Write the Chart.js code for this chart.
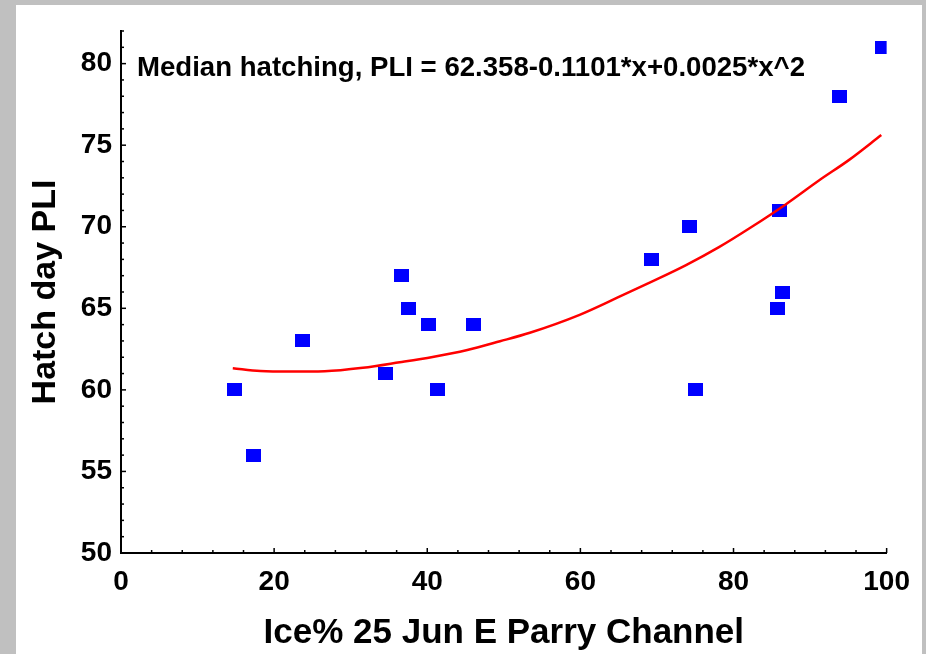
<!DOCTYPE html>
<html lang="en">
<head>
  <meta charset="UTF-8">
  <title>Hatch day PLI vs Ice%</title>
  <script src="https://cdn.jsdelivr.net/npm/chart.js"></script>
  <style>
    body {
      background-color: #c0c0c0;
      margin: 0;
      width: 926px;
      height: 654px;
      overflow: hidden;
    }
    .panel {
      position: absolute;
      left: 16px;
      top: 5px;
      width: 906px;
      height: 649px;
      background: #fff;
    }
  </style>
</head>
<body>
  <div class="panel"><canvas id="pliChart"></canvas></div>

  <script>
    // observed points: ice cover (%) on 25 Jun vs median hatch day
    const iceX = [14.8, 17.3, 23.7, 34.5, 36.7, 37.6, 40.1, 41.3, 46.1, 69.3, 74.2, 75.0, 86.0, 85.8, 86.4, 93.8, 99.4];
    const hatchY = [60, 56, 63, 61, 67, 65, 64, 60, 64, 68, 70, 60, 71, 65, 66, 78, 81];

    // fitted curve
    const fitX = [14.6, 18.2, 22.0, 26.6, 31.6, 36.4, 40.7, 45.1, 49.5, 53.4, 59.9, 65.1, 69.4, 73.8, 78.1, 82.4, 86.9, 91.2, 95.1, 99.3];
    const fitY = [61.33, 61.16, 61.12, 61.14, 61.35, 61.69, 62.02, 62.43, 62.98, 63.5, 64.6, 65.71, 66.65, 67.65, 68.75, 70.0, 71.4, 72.85, 74.1, 75.62];

    const eqLabel = 'Median hatching, PLI = 62.358-0.1101*x+0.0025*x^2';
    const xTitle = 'Ice% 25 Jun E Parry Channel';
    const yTitle = 'Hatch day PLI';

    const FONT = "'Liberation Sans', Arial, sans-serif";

    // blue rectangle marker
    const marker = document.createElement('canvas');
    marker.width = 15;
    marker.height = 13;
    const mctx = marker.getContext('2d');
    mctx.fillStyle = '#0000ff';
    mctx.fillRect(0, 0, 15, 13);

    // short tick marks pointing into the plot
    const innerTicks = {
      id: 'innerTicks',
      afterDraw(chart) {
        const { ctx, chartArea, scales } = chart;
        ctx.save();
        ctx.strokeStyle = '#000';
        ctx.lineWidth = 1.5;
        scales.x.ticks.forEach(t => {
          const px = scales.x.getPixelForValue(t.value);
          const len = t.value % 20 === 0 ? 5 : 3;
          ctx.beginPath();
          ctx.moveTo(px, chartArea.bottom);
          ctx.lineTo(px, chartArea.bottom - len);
          ctx.stroke();
        });
        scales.y.ticks.forEach(t => {
          const py = scales.y.getPixelForValue(t.value);
          const len = t.value % 5 === 0 ? 5 : 3;
          ctx.beginPath();
          ctx.moveTo(chartArea.left, py);
          ctx.lineTo(chartArea.left + len, py);
          ctx.stroke();
        });
        ctx.restore();
      }
    };

    // regression equation in the upper left of the plot
    const equation = {
      id: 'equation',
      afterDraw(chart) {
        const { ctx, chartArea, scales } = chart;
        ctx.save();
        ctx.font = 'bold 27.6px ' + FONT;
        ctx.fillStyle = '#000';
        ctx.textBaseline = 'alphabetic';
        ctx.fillText(eqLabel, chartArea.left + 16, scales.y.getPixelForValue(80) + 12);
        ctx.restore();
      }
    };

    new Chart(document.getElementById('pliChart').getContext('2d'), {
      type: 'scatter',
      data: {
        datasets: [
          {
            label: 'fit',
            data: fitX.map((x, i) => ({ x, y: fitY[i] })),
            showLine: true,
            borderColor: '#ff0000',
            borderWidth: 2.5,
            pointRadius: 0,
            cubicInterpolationMode: 'monotone'
          },
          {
            label: 'PLI',
            data: iceX.map((x, i) => ({ x, y: hatchY[i] })),
            pointStyle: marker,
            pointRadius: 8,
            borderWidth: 0
          }
        ]
      },
      options: {
        responsive: true,
        maintainAspectRatio: false,
        animation: false,
        layout: { padding: { left: 0, top: 26, right: 34, bottom: 0 } },
        plugins: {
          legend: { display: false },
          tooltip: { enabled: false }
        },
        scales: {
          x: {
            min: 0,
            max: 100,
            afterFit: s => { s.height = 101; },
            grid: { display: false, drawTicks: false },
            border: { display: true, color: '#000', width: 2 },
            ticks: {
              stepSize: 4,
              maxTicksLimit: 100,
              autoSkip: false,
              maxRotation: 0,
              padding: 12,
              color: '#000',
              font: { family: FONT, size: 28, weight: 'bold' },
              callback: v => (v % 20 === 0 ? String(v) : '')
            },
            title: {
              display: true,
              text: xTitle,
              color: '#000',
              font: { family: FONT, size: 35, weight: 'bold' },
              padding: { top: 0, bottom: 0 }
            }
          },
          y: {
            min: 50,
            max: 82,
            afterFit: s => { s.width = 105; },
            grid: { display: false, drawTicks: false },
            border: { display: true, color: '#000', width: 2 },
            ticks: {
              stepSize: 1,
              maxTicksLimit: 100,
              autoSkip: false,
              padding: 9,
              color: '#000',
              font: { family: FONT, size: 28, weight: 'bold' },
              callback: v => (v % 5 === 0 ? String(v) : '')
            },
            title: {
              display: true,
              text: yTitle,
              color: '#000',
              font: { family: FONT, size: 34, weight: 'bold' },
              padding: { top: 9, bottom: 0 }
            }
          }
        }
      },
      plugins: [innerTicks, equation]
    });
  </script>
</body>
</html>
